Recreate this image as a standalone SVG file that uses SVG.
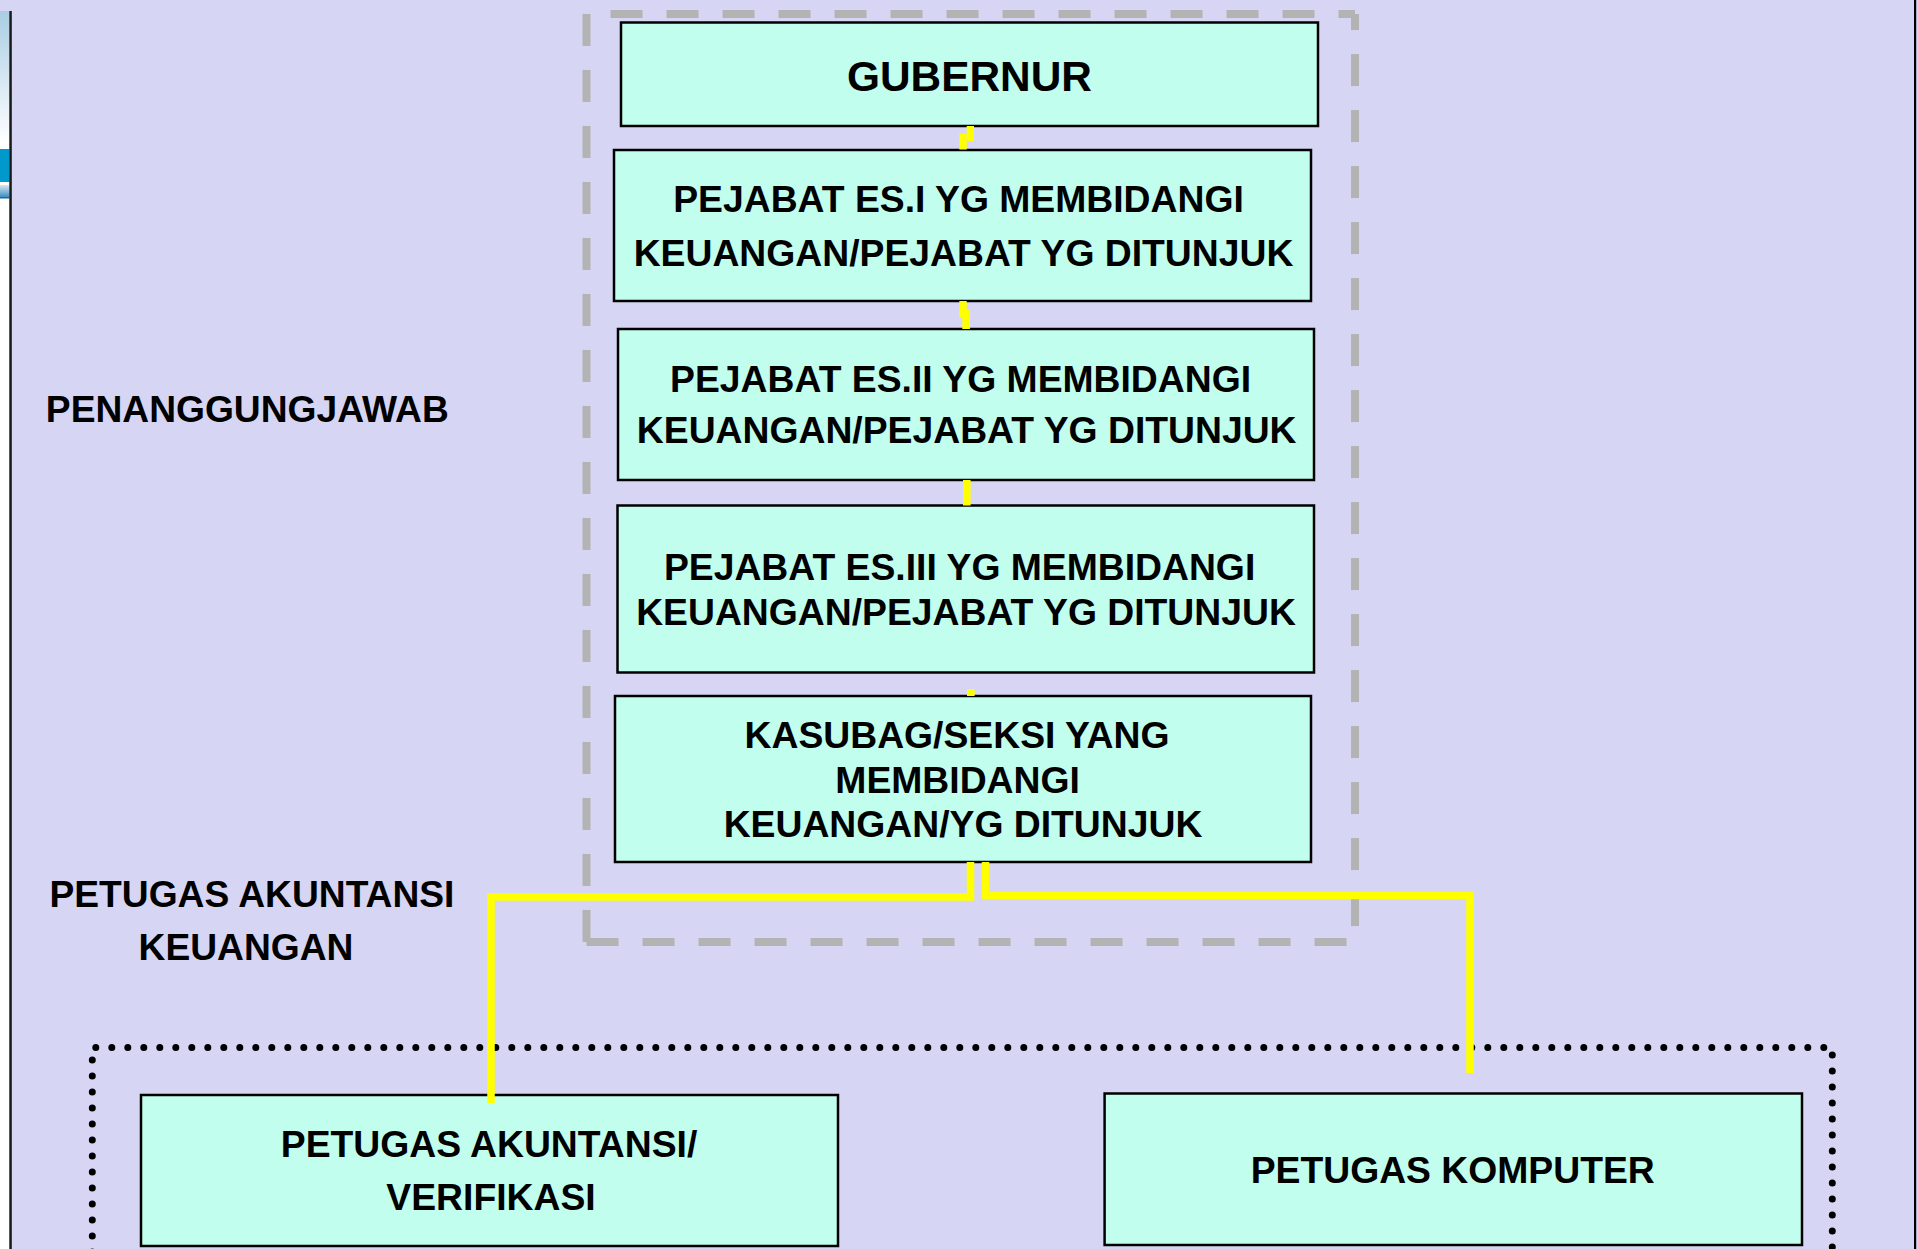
<svg xmlns="http://www.w3.org/2000/svg" width="1918" height="1249" viewBox="0 0 1918 1249">
<defs>
<linearGradient id="gTop" x1="0" y1="0" x2="0" y2="1">
<stop offset="0" stop-color="#a9cde3"/>
<stop offset="1" stop-color="#ffffff"/>
</linearGradient>
<linearGradient id="gBand" x1="0" y1="0" x2="0" y2="1">
<stop offset="0" stop-color="#d9e8f2"/>
<stop offset="1" stop-color="#3d8fc2"/>
</linearGradient>
<style>
.node rect{fill:#c1feee;stroke:#000;stroke-width:2.5}
text{font-family:"Liberation Sans",Arial,sans-serif;font-weight:bold;fill:#000;text-anchor:middle}
.t37{font-size:37.3px}
.lbl{font-size:37.2px}
.dash{stroke:#b3b3b3;stroke-width:8;stroke-dasharray:32 24;fill:none}
.conn{stroke:#ffff00;stroke-width:7.5;fill:none;stroke-linejoin:miter}
.dot{stroke:#000;stroke-width:7;stroke-dasharray:0 16;stroke-linecap:round;fill:none}
</style>
</defs>
<rect x="0" y="0" width="1918" height="1249" fill="#d6d6f4"/>
<g id="frame">
<rect x="0" y="11" width="9.5" height="1238" fill="#ffffff"/>
<rect x="0" y="11" width="9.5" height="132" fill="url(#gTop)"/>
<rect x="0" y="149" width="9.5" height="33" fill="#0099cc"/>
<rect x="0" y="185" width="9.5" height="12" fill="url(#gBand)"/>
<rect x="0" y="197" width="9.5" height="1.5" fill="#1a6a9a"/>
<rect x="9.3" y="11" width="2.5" height="1238" fill="#1a1a1a"/>
<rect x="1914" y="0" width="2.2" height="1249" fill="#000"/>
</g>
<g id="group-penanggungjawab">
<line class="dash" x1="586.5" y1="14" x2="586.5" y2="942" stroke-dashoffset="0"/>
<line class="dash" x1="586.5" y1="14" x2="1355" y2="14" stroke-dashoffset="32"/>
<line class="dash" x1="1355" y1="14" x2="1355" y2="942" stroke-dashoffset="16"/>
<line class="dash" x1="586.5" y1="942" x2="1355" y2="942" stroke-dashoffset="0"/>
</g>
<g id="group-petugas">
<path class="dot" d="M92.3,1300 V1047.5 H1832.3 V1300"/>
</g>
<g id="label-penanggungjawab">
<text class="lbl" x="247.3" y="421.5">PENANGGUNGJAWAB</text>
</g>
<g id="label-petugas">
<text class="lbl" x="252" y="907.3">PETUGAS AKUNTANSI</text>
<text class="lbl" x="246" y="960">KEUANGAN</text>
</g>
<g id="node-gubernur" class="node">
<rect x="621" y="22.5" width="697" height="103.5"/>
<text x="969.5" y="90.7" style="font-size:42.4px">GUBERNUR</text>
</g>
<g id="node-es1" class="node">
<rect x="614" y="150" width="697" height="151"/>
<text class="t37" x="958.5" y="212.3">PEJABAT ES.I YG MEMBIDANGI</text>
<text class="t37" x="963.5" y="265.7">KEUANGAN/PEJABAT YG DITUNJUK</text>
</g>
<g id="node-es2" class="node">
<rect x="618" y="329" width="696" height="151"/>
<text class="t37" x="960.6" y="392.3">PEJABAT ES.II YG MEMBIDANGI</text>
<text class="t37" x="966.7" y="443">KEUANGAN/PEJABAT YG DITUNJUK</text>
</g>
<g id="node-es3" class="node">
<rect x="617.5" y="505.5" width="696.5" height="167"/>
<text class="t37" x="959.6" y="580">PEJABAT ES.III YG MEMBIDANGI</text>
<text class="t37" x="966" y="625">KEUANGAN/PEJABAT YG DITUNJUK</text>
</g>
<g id="node-kasubag" class="node">
<rect x="615" y="696" width="696" height="166"/>
<text class="t37" x="957" y="748">KASUBAG/SEKSI YANG</text>
<text class="t37" x="957.6" y="792.5">MEMBIDANGI</text>
<text class="t37" x="963" y="836.7">KEUANGAN/YG DITUNJUK</text>
</g>
<g id="node-akuntansi" class="node">
<rect x="141" y="1095" width="697" height="151"/>
<text class="t37" x="489" y="1157">PETUGAS AKUNTANSI/</text>
<text class="t37" x="491" y="1210">VERIFIKASI</text>
</g>
<g id="node-komputer" class="node">
<rect x="1104.6" y="1093.5" width="697.4" height="151.5"/>
<text class="t37" x="1452.7" y="1183">PETUGAS KOMPUTER</text>
</g>
<g id="connectors" fill="#ffff00">
<rect x="966.7" y="126" width="7.3" height="15"/>
<rect x="959.3" y="134" width="7.4" height="15.5"/>
<rect x="959.3" y="301" width="7.4" height="17"/>
<rect x="962.3" y="310" width="7.6" height="19"/>
<rect x="963" y="480" width="7.6" height="25.5"/>
<rect x="967" y="689" width="7.6" height="7"/>
<polyline class="conn" points="970.5,862 970.5,897 491,897 491,1103"/>
<polyline class="conn" points="985.5,862 985.5,895.4 1470,895.4 1470,1073"/>
</g>
</svg>
